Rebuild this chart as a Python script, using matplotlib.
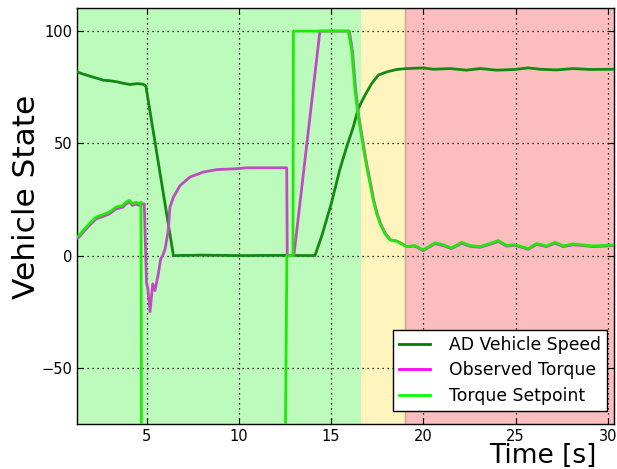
import matplotlib
matplotlib.use("Agg")
import matplotlib.pyplot as plt
from matplotlib.lines import Line2D

# AD vehicle speed
speed_t = [1.24, 1.5, 1.93, 2.3, 2.65, 3.0, 3.38, 3.7, 4.1, 4.5, 4.82, 4.96,
           6.45, 8.0, 10.0, 12.0, 14.12, 14.5, 15.0, 15.48, 15.84, 16.2, 16.47,
           16.83, 17.2, 17.56, 18.01, 18.55, 19.09, 19.99, 20.53, 21.44, 22.34,
           23.07, 23.97, 24.96, 25.68, 26.32, 27.22, 28.12, 29.03, 30.33]
speed_v = [81.8, 81.0, 79.9, 79.0, 78.1, 77.9, 77.4, 76.8, 76.2, 76.6, 76.3, 75.4,
           0.0, 0.2, 0.0, 0.1, 0.0, 9.0, 23.0, 38.7, 48.4, 57.3, 65.5,
           71.4, 76.7, 80.4, 81.8, 82.9, 83.3, 83.6, 83.0, 83.3, 82.6,
           83.3, 82.6, 82.9, 83.6, 83.0, 82.7, 83.3, 82.9, 83.0]

# torque setpoint
setpoint_t = [1.24, 1.32, 1.71, 1.98, 2.25, 2.52, 2.97, 3.34, 3.70, 3.88, 4.06,
              4.24, 4.42, 4.6, 4.69, 4.72, 12.5, 12.6, 12.93, 12.95, 15.93,
              16.11, 16.29, 16.47, 16.65, 16.83, 16.93, 17.11, 17.28, 17.47,
              17.65, 17.92, 18.19, 18.55, 18.82, 19.09]
setpoint_v = [8.5, 8.9, 12.6, 14.9, 17.1, 17.9, 19.3, 21.6, 22.3, 23.8, 24.6,
              23.1, 23.8, 23.1, 23.8, -100.0, -100.0, 0.0, 0.0, 100.0, 100.0,
              91.5, 73.7, 61.7, 52.8, 43.9, 39.4, 32.0, 24.6, 18.6,
              14.2, 9.7, 7.0, 6.4, 5.2, 4.0]

# observed torque
observed_t = [1.24, 1.32, 1.71, 1.98, 2.25, 2.52, 2.97, 3.34, 3.70, 3.88, 4.06,
              4.24, 4.42, 4.6, 4.75, 4.87, 4.99, 5.06, 5.18, 5.33, 5.45, 5.63,
              5.76, 5.87, 6.0, 6.17, 6.26, 6.45, 6.81, 7.35, 8.07, 8.8, 9.88,
              10.42, 12.59, 12.62, 12.98, 14.39, 15.98, 16.15, 16.33, 16.5,
              16.68, 16.86, 16.96, 17.14, 17.31, 17.5, 17.68, 17.95, 18.22,
              18.58, 18.85, 19.09]
observed_v = [7.8, 8.1, 11.8, 14.1, 16.3, 17.1, 18.5, 20.8, 21.5, 23.0, 23.8,
              22.3, 23.0, 22.3, 23.0, 23.0, -12.0, -14.5, -25.0, -12.6, -15.6, -8.2,
              -1.5, 0.0, 3.0, 11.2, 21.6, 26.0, 31.2, 35.0, 37.2, 38.3, 38.7,
              39.1, 39.1, 0.0, 0.0, 100.0, 100.0, 91.5, 73.7, 61.7,
              52.8, 43.9, 39.4, 32.0, 24.6, 18.6, 14.2, 9.7, 7.0,
              6.4, 5.2, 4.0]

# steady tail of both torque signals
tail_t = [19.54, 19.99, 20.63, 21.08, 21.53, 22.07, 22.52, 23.07, 23.61, 24.06,
          24.51, 24.96, 25.68, 26.14, 26.68, 27.13, 27.58, 28.12, 28.58, 29.21,
          29.75, 30.33]
tail_setpoint = [4.5, 2.5, 5.7, 4.8, 3.4, 5.9, 4.5, 4.0, 5.4, 6.7, 4.5, 4.9,
                 3.1, 5.4, 4.3, 5.9, 4.3, 5.2, 4.8, 4.3, 4.5, 4.8]
tail_observed = [4.2, 2.2, 5.3, 4.4, 3.1, 5.5, 4.1, 3.7, 5.0, 6.3, 4.2, 4.6,
                 2.8, 5.0, 4.0, 5.5, 4.0, 4.8, 4.5, 4.0, 4.2, 4.5]

# state phases (start, end, colour)
phase_edges = [1.24, 16.62, 19.02, 30.33]
phase_colors = ["#bdfbbd", "#fdf5bd", "#fbbdbd"]

legend_labels = ["AD Vehicle Speed", "Observed Torque", "Torque Setpoint"]


def main():
    fig = plt.figure(figsize=(6.17, 4.69), dpi=100)
    ax = fig.add_axes([0.1253, 0.096, 0.8698, 0.888])

    for i, color in enumerate(phase_colors):
        ax.axvspan(phase_edges[i], phase_edges[i + 1], color=color, lw=0, zorder=0.2)
    ax.axvline(phase_edges[2], color="#c8a890", lw=1, zorder=0.3)

    ax.plot(speed_t, speed_v, color="#128a12", lw=2, zorder=3)
    ax.plot(observed_t + tail_t, observed_v + tail_observed, color="#c04cc4", lw=2, zorder=4)
    ax.plot(setpoint_t + tail_t, setpoint_v + tail_setpoint, color="#22e80a", lw=2, zorder=5)

    ax.set_xlim(1.24, 30.33)
    ax.set_ylim(-75, 110.5)
    ax.set_xticks([5, 10, 15, 20, 25, 30])
    ax.set_yticks([-50, 0, 50, 100])
    ax.tick_params(direction="in", top=True, right=True, labelsize=10.5, length=4)
    ax.set_axisbelow(True)
    ax.grid(True, color="black", linestyle=(0, (1, 3)), lw=0.9)
    for spine in ax.spines.values():
        spine.set_linewidth(1.0)

    ax.set_ylabel("Vehicle State", fontsize=22.5)
    ax.yaxis.set_label_coords(-0.068, 0.545)
    ax.set_xlabel("Time [s]", fontsize=19)
    ax.xaxis.set_label_coords(0.868, -0.045)

    handles = [
        Line2D([], [], color="green", lw=2),
        Line2D([], [], color="magenta", lw=2),
        Line2D([], [], color="lime", lw=2),
    ]
    leg = ax.legend(handles, legend_labels, loc="lower right",
                    bbox_to_anchor=(0.987, 0.031), borderaxespad=0,
                    fontsize=12.4, fancybox=False, framealpha=1,
                    edgecolor="black", handlelength=1.8, handletextpad=1.1,
                    labelspacing=0.45, borderpad=0.35)
    leg.get_frame().set_linewidth(1.0)
    leg.set_zorder(10)

    fig.savefig("out.png", dpi=100)
    plt.close(fig)


if __name__ == "__main__":
    main()
